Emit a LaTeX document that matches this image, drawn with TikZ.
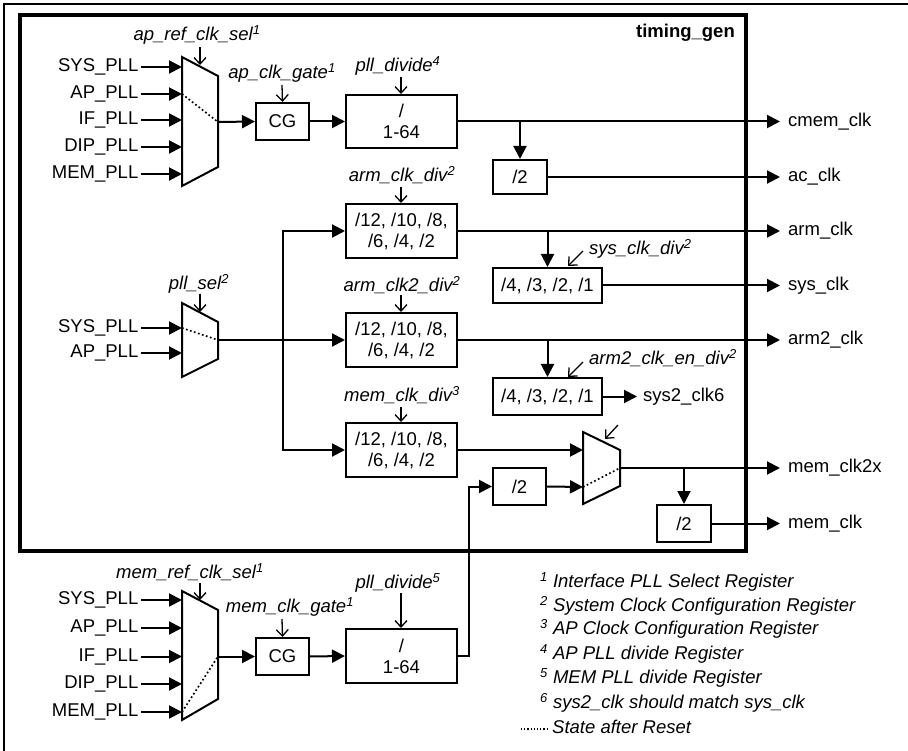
\documentclass[tikz,border=0pt]{standalone}
\usepackage{fontspec}
\setmainfont{Liberation Sans}
\usetikzlibrary{arrows.meta,calc}
\newcommand\myfs{\fontsize{18.5}{21}\selectfont}
\begin{document}
\begin{tikzpicture}[x=1pt,y=-1pt,
  every node/.style={font=\myfs, inner sep=0pt},
  inl/.style={anchor=east, inner xsep=2.5pt},
  outl/.style={anchor=west, inner xsep=8pt},
  ctl/.style={font=\myfs\itshape},
  box/.style={draw, line width=2pt, align=center},
  sig/.style={line width=2pt, -{Triangle[length=13pt,width=13pt]}},
  wire/.style={line width=2pt},
  cin/.style={line width=1.3pt, -{Straight Barb[length=6.5pt,width=12pt]}},
  muxs/.style={draw, line width=2pt, line join=miter},
  rst/.style={line width=1.7pt, dash pattern=on 1.7pt off 2.5pt},
  leg/.style={anchor=west, font=\myfs\itshape}]
\useasboundingbox (0,0) rectangle (908,751);
% frames
\draw[line width=1.7pt] (4,751) -- (4,4) -- (908,4);
\draw[line width=3.4pt] (20,15) rectangle (746,551);
\node[anchor=east, font=\myfs\bfseries] (tg) at (735,33) {timing\_gen};

% ---------- mux 1 ----------
\coordinate (m1a) at (182,57); \coordinate (m1b) at (218,76);
\coordinate (m1c) at (218,167); \coordinate (m1d) at (182,186);
\draw[muxs] (m1a)--(m1b)--(m1c)--(m1d)--cycle;
\coordinate (m1i1) at (182,67); \coordinate (m1i2) at (182,94);
\coordinate (m1i3) at (182,120); \coordinate (m1i4) at (182,147);
\coordinate (m1i5) at (182,174); \coordinate (m1o) at (218,122);
\node[inl] (p11) at (141,67) {SYS\_PLL};
\node[inl] (p12) at (141,94) {AP\_PLL};
\node[inl] (p13) at (141,120) {IF\_PLL};
\node[inl] (p14) at (141,147) {DIP\_PLL};
\node[inl] (p15) at (141,174) {MEM\_PLL};
\draw[sig] (p11.east) -- (m1i1);
\draw[sig] (p12.east) -- (m1i2);
\draw[sig] (p13.east) -- (m1i3);
\draw[sig] (p14.east) -- (m1i4);
\draw[sig] (p15.east) -- (m1i5);
\draw[rst] (m1i2) -- (m1o);
\node[ctl] (c1) at (197,35) {ap\_ref\_clk\_sel\textsuperscript{1}};
\coordinate (c1s) at (200,47); \coordinate (c1e) at (200,65);
\draw[cin] (c1s) -- (c1e);

% CG 1
\node[box, minimum width=53pt, minimum height=37pt] (cg1) at (282.5,121.5) {CG};
\draw[sig] (m1o) -- (cg1.west);
\node[ctl] (c2) at (282,73) {ap\_clk\_gate\textsuperscript{1}};
\coordinate (c2s) at (282,85);
\draw[cin] (c2s) -- (cg1.north);

% divider 1
\node[box, minimum width=111pt, minimum height=53pt] (d1) at (401.5,121.5) {/\\1-64};
\draw[sig] (cg1.east) -- (d1.west);
\node[ctl] (c3) at (398,66) {pll\_divide\textsuperscript{4}};
\coordinate (c3s) at (401,77);
\draw[cin] (c3s) -- (d1.north -| c3s);

\node[outl] (o1) at (780,121.5) {cmem\_clk};
\draw[sig] (d1.east) -- (o1.west);
\node[box, minimum width=54pt, minimum height=34pt] (h1) at (520,177) {/2};
\coordinate (b1) at (520,121.5);
\draw[sig] (b1) -- (h1.north);
\node[outl] (o2) at (780,177) {ac\_clk};
\draw[sig] (h1.east) -- (o2.west);

% ---------- mux 2 ----------
\coordinate (m2a) at (182,303); \coordinate (m2b) at (218,322);
\coordinate (m2c) at (218,359); \coordinate (m2d) at (182,377);
\draw[muxs] (m2a)--(m2b)--(m2c)--(m2d)--cycle;
\coordinate (m2i1) at (182,328); \coordinate (m2i2) at (182,353);
\coordinate (m2o) at (218,340);
\node[inl] (p21) at (141,328) {SYS\_PLL};
\node[inl] (p22) at (141,353) {AP\_PLL};
\draw[sig] (p21.east) -- (m2i1);
\draw[sig] (p22.east) -- (m2i2);
\draw[rst] (m2i1) -- (m2o);
\node[ctl] (c4) at (199,284) {pll\_sel\textsuperscript{2}};
\coordinate (c4s) at (200,294); \coordinate (c4e) at (200,312);
\draw[cin] (c4s) -- (c4e);

% arm boxes
\node[box, minimum width=111pt, minimum height=54pt] (a1) at (401.5,231) {/12, /10, /8,\\/6, /4, /2};
\node[box, minimum width=111pt, minimum height=54pt] (a2) at (401.5,340) {/12, /10, /8,\\/6, /4, /2};
\node[box, minimum width=111pt, minimum height=54pt] (a3) at (401.5,450) {/12, /10, /8,\\/6, /4, /2};
\coordinate (j1) at (283,340);
\draw[sig] (m2o) -- (a2.west);
\draw[sig] (j1) |- (a1.west);
\draw[sig] (j1) |- (a3.west);

\node[ctl] (c5) at (402,175) {arm\_clk\_div\textsuperscript{2}};
\coordinate (c5s) at (401,187);
\draw[cin] (c5s) -- (a1.north -| c5s);
\node[ctl] (c6) at (402,285) {arm\_clk2\_div\textsuperscript{2}};
\coordinate (c6s) at (401,295);
\draw[cin] (c6s) -- (a2.north -| c6s);
\node[ctl] (c7) at (402,395) {mem\_clk\_div\textsuperscript{3}};
\coordinate (c7s) at (401,407);
\draw[cin] (c7s) -- (a3.north -| c7s);

% arm_clk / sys_clk
\node[outl] (o3) at (780,231) {arm\_clk};
\draw[sig] (a1.east) -- (o3.west);
\node[box, minimum width=109pt, minimum height=35pt] (s1) at (547.5,285.5) {/4, /3, /2, /1};
\coordinate (b2) at (547.5,231);
\draw[sig] (b2) -- (s1.north);
\node[outl] (o4) at (780,285.5) {sys\_clk};
\draw[sig] (s1.east) -- (o4.west);
\node[ctl, anchor=west] (c8) at (589,249) {sys\_clk\_div\textsuperscript{2}};
\coordinate (c8s) at (583,251); \coordinate (c8e) at (568,266);
\draw[cin] (c8s) -- (c8e);

% arm2_clk / sys2_clk6
\node[outl] (o5) at (780,340) {arm2\_clk};
\draw[sig] (a2.east) -- (o5.west);
\node[box, minimum width=109pt, minimum height=37pt] (s2) at (547.5,396.5) {/4, /3, /2, /1};
\coordinate (b3) at (547.5,340);
\draw[sig] (b3) -- (s2.north);
\node[outl, inner xsep=6pt] (o6) at (637,396.5) {sys2\_clk6};
\draw[sig] (s2.east) -- (o6.west);
\node[ctl, anchor=west] (c9) at (589,358) {arm2\_clk\_en\_div\textsuperscript{2}};
\coordinate (c9s) at (583,362); \coordinate (c9e) at (568,377);
\draw[cin] (c9s) -- (c9e);

% ---------- mux 3 ----------
\coordinate (m3a) at (583,432); \coordinate (m3b) at (620,450);
\coordinate (m3c) at (620,486); \coordinate (m3d) at (583,504);
\draw[muxs] (m3a)--(m3b)--(m3c)--(m3d)--cycle;
\coordinate (m3i1) at (583,450); \coordinate (m3i2) at (583,487);
\coordinate (m3o) at (620,468);
\draw[sig] (a3.east) -- (m3i1);
\draw[rst] (m3i2) -- (m3o);
\coordinate (c10s) at (618,425); \coordinate (c10e) at (605,439);
\draw[cin] (c10s) -- (c10e);
\node[box, minimum width=53pt, minimum height=37pt] (h2) at (519.5,486.5) {/2};
\draw[sig] (h2.east) -- (m3i2);
\node[outl] (o7) at (780,468) {mem\_clk2x};
\draw[sig] (m3o) -- (o7.west);
\node[box, minimum width=54pt, minimum height=37pt] (h3) at (684,523.5) {/2};
\coordinate (b4) at (684,468);
\draw[sig] (b4) -- (h3.north);
\node[outl] (o8) at (780,523.5) {mem\_clk};
\draw[sig] (h3.east) -- (o8.west);

% ---------- mux 4 ----------
\coordinate (m4a) at (182,591); \coordinate (m4b) at (218,610);
\coordinate (m4c) at (218,699); \coordinate (m4d) at (182,720);
\draw[muxs] (m4a)--(m4b)--(m4c)--(m4d)--cycle;
\coordinate (m4i1) at (182,600); \coordinate (m4i2) at (182,628);
\coordinate (m4i3) at (182,656.5); \coordinate (m4i4) at (182,684);
\coordinate (m4i5) at (182,712); \coordinate (m4o) at (218,656.5);
\node[inl] (p41) at (141,600) {SYS\_PLL};
\node[inl] (p42) at (141,628) {AP\_PLL};
\node[inl] (p43) at (141,656.5) {IF\_PLL};
\node[inl] (p44) at (141,684) {DIP\_PLL};
\node[inl] (p45) at (141,712) {MEM\_PLL};
\draw[sig] (p41.east) -- (m4i1);
\draw[sig] (p42.east) -- (m4i2);
\draw[sig] (p43.east) -- (m4i3);
\draw[sig] (p44.east) -- (m4i4);
\draw[sig] (p45.east) -- (m4i5);
\draw[rst] (m4i5) -- (m4o);
\node[ctl] (c11) at (190,572) {mem\_ref\_clk\_sel\textsuperscript{1}};
\coordinate (c11s) at (200,583); \coordinate (c11e) at (200,600);
\draw[cin] (c11s) -- (c11e);

\node[box, minimum width=53pt, minimum height=37pt] (cg2) at (282.5,656.5) {CG};
\draw[sig] (m4o) -- (cg2.west);
\node[ctl] (c12) at (290,607) {mem\_clk\_gate\textsuperscript{1}};
\coordinate (c12s) at (282,619);
\draw[cin] (c12s) -- (cg2.north);

\node[box, minimum width=111pt, minimum height=54pt] (d2) at (401.5,656) {/\\1-64};
\draw[sig] (cg2.east) -- (d2.west);
\node[ctl] (c13) at (398,583) {pll\_divide\textsuperscript{5}};
\coordinate (c13s) at (401,593);
\draw[cin] (c13s) -- (d2.north -| c13s);
\coordinate (k1) at (469,656);
\draw[sig] (d2.east) -- (k1) |- (h2.west);

% ---------- legend ----------
\node[leg] (l1) at (540,582) {\textsuperscript{1} Interface PLL Select Register};
\node[leg] (l2) at (540,606) {\textsuperscript{2} System Clock Configuration Register};
\node[leg] (l3) at (540,629) {\textsuperscript{3} AP Clock Configuration Register};
\node[leg] (l4) at (540,654) {\textsuperscript{4} AP PLL divide Register};
\node[leg] (l5) at (540,678) {\textsuperscript{5} MEM PLL divide Register};
\node[leg] (l6) at (540,703) {\textsuperscript{6} sys2\_clk should match sys\_clk};
\node[leg] (l7) at (552,727) {State after Reset};
\coordinate (r1) at (521,729); \coordinate (r2) at (548,729);
\draw[line width=1.2pt, dash pattern=on 1.2pt off 2pt] (r1) -- (r2);
\end{tikzpicture}
\end{document}
